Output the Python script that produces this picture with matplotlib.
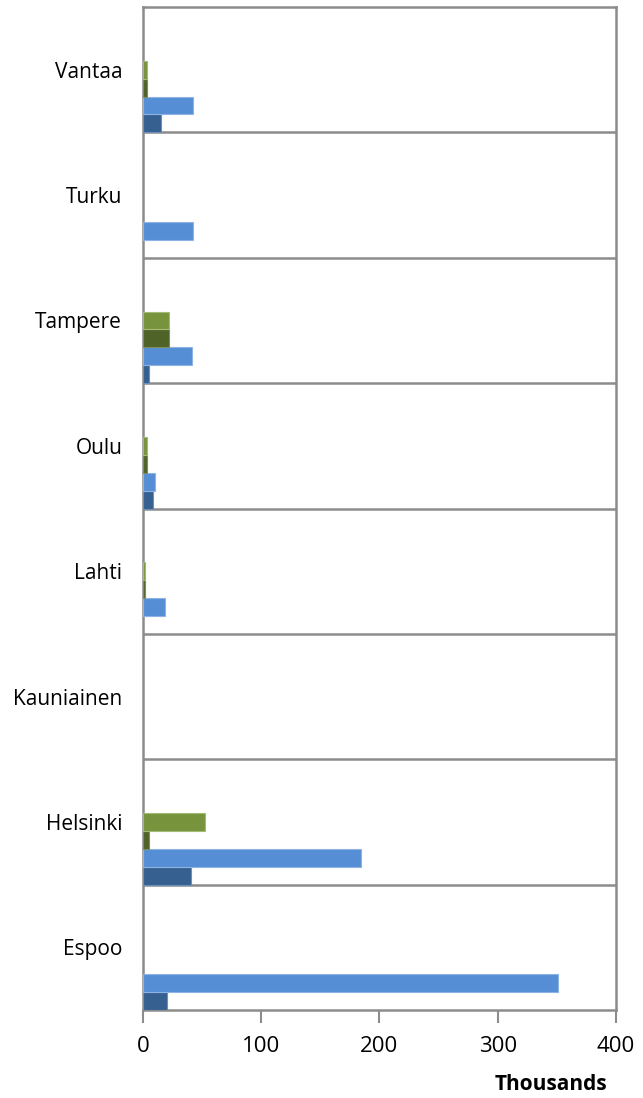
import matplotlib.pyplot as plt
import numpy as np

# cities, bottom to top
cities = ["Espoo", "Helsinki", "Kauniainen", "Lahti", "Oulu", "Tampere", "Turku", "Vantaa"]

# values in thousands, one list per series (bottom bar of each group first)
s1 = [20.5, 40.6, 0.0, 0.0, 8.7, 5.4, 0.0, 15.2]        # dark blue
s2 = [350.7, 184.7, 0.0, 18.9, 10.4, 41.2, 42.6, 42.6]  # light blue
s3 = [0.0, 5.4, 0.0, 2.0, 3.7, 22.3, 0.0, 3.7]          # dark green
s4 = [0.0, 52.7, 0.0, 2.0, 3.7, 22.3, 0.0, 3.7]         # light green

series = [s1, s2, s3, s4]
colors = ["#35608f", "#558ed5", "#4f6228", "#77933c"]
edges = ["#6f8fb8", "#8fb4e3", "#7d8e5a", "#a3bb74"]

fig = plt.figure(figsize=(6.43, 10.98), dpi=100)
ax = fig.add_axes([0.2224, 0.0801, 0.7356, 0.9135])

y = np.arange(len(cities))
slot = 1 / 7
for k, vals in enumerate(series):
    lw = [0.8 if v > 0 else 0 for v in vals]
    ax.barh(y + k * slot, vals, height=slot, align="edge",
            color=colors[k], edgecolor=edges[k], linewidth=lw, zorder=3)

ax.set_xlim(0, 400)
ax.set_ylim(0, len(cities))
ax.set_xticks([0, 100, 200, 300, 400])
ax.set_yticks(y + 0.5)
ax.set_yticklabels(cities)
ax.set_yticks(np.arange(1, len(cities)), minor=True)
ax.grid(which="minor", axis="y", color="#8c8c8c", linewidth=1.8, zorder=1)

for sp in ax.spines.values():
    sp.set_color("#8c8c8c")
    sp.set_linewidth(1.8)

ax.tick_params(axis="y", which="both", length=0, pad=15, labelsize=15)
ax.tick_params(axis="x", length=9, width=1.5, color="#8c8c8c", pad=10, labelsize=16)
for lab in ax.get_xticklabels() + ax.get_yticklabels():
    lab.set_fontfamily("Open Sans")

fig.text(0.945, 0.003, "Thousands", ha="right", va="bottom",
         fontsize=15, fontweight="bold", family="Open Sans")

fig.savefig("out.png", dpi=100)
